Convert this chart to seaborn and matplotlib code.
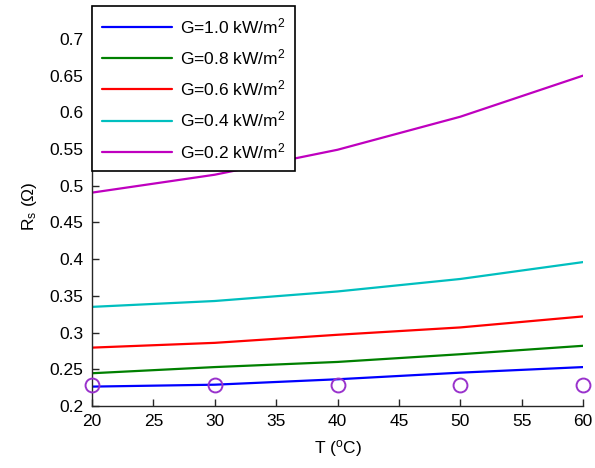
import numpy as np
import pandas as pd
import matplotlib
matplotlib.use("Agg")
import matplotlib.pyplot as plt
import seaborn as sns

# Series resistance vs. temperature for several irradiance levels
temps = [20, 30, 40, 50, 60]
rs_g10 = [0.2264, 0.229, 0.2364, 0.2454, 0.253]
rs_g08 = [0.2446, 0.253, 0.260, 0.2705, 0.282]
rs_g06 = [0.2795, 0.286, 0.297, 0.307, 0.322]
rs_g04 = [0.335, 0.343, 0.356, 0.373, 0.396]
rs_g02 = [0.4906, 0.515, 0.549, 0.594, 0.650]
# reference measurement points
ref_temps = [20, 30, 40, 50, 60]
ref_rs = [0.228, 0.228, 0.228, 0.228, 0.228]

labels = ["G=1.0 kW/m$^2$", "G=0.8 kW/m$^2$", "G=0.6 kW/m$^2$",
          "G=0.4 kW/m$^2$", "G=0.2 kW/m$^2$"]
colors = ["#0000ff", "#008000", "#ff0000", "#00bfbf", "#bf00bf"]

rows = []
for lab, vals in zip(labels, [rs_g10, rs_g08, rs_g06, rs_g04, rs_g02]):
    for t, v in zip(temps, vals):
        rows.append({"T": t, "Rs": v, "G": lab})
df = pd.DataFrame(rows)

sns.set_style("white")
plt.rcParams["font.family"] = ["Liberation Sans", "DejaVu Sans"]
plt.rcParams["mathtext.fontset"] = "custom"
plt.rcParams["mathtext.rm"] = "Liberation Sans"
plt.rcParams["mathtext.it"] = "Liberation Sans"
plt.rcParams["mathtext.default"] = "regular"
plt.rcParams["text.color"] = "black"
plt.rcParams["axes.labelcolor"] = "black"
plt.rcParams["xtick.color"] = "black"
plt.rcParams["ytick.color"] = "black"

fig = plt.figure(figsize=(5.95, 4.68), dpi=100)
ax = fig.add_axes([0.1546, 0.1325, 0.8254, 0.855])

sns.lineplot(data=df, x="T", y="Rs", hue="G", palette=colors,
             hue_order=labels, linewidth=1.6, ax=ax, legend=True)
ax.plot(ref_temps, ref_rs, linestyle="none", marker="o", markersize=10,
        markerfacecolor="none", markeredgecolor="#9932cc",
        markeredgewidth=1.4, clip_on=False, zorder=5)

ax.set_xlim(20, 60)
ax.set_ylim(0.2, 0.745)
ax.set_xticks(np.arange(20, 61, 5))
ax.set_yticks(np.arange(0.2, 0.701, 0.05))
ax.set_yticklabels(["%g" % round(v, 2) for v in np.arange(0.2, 0.701, 0.05)])

for side in ["top", "right"]:
    ax.spines[side].set_visible(False)
for side in ["left", "bottom"]:
    ax.spines[side].set_color("#262626")
    ax.spines[side].set_linewidth(1.0)

ax.tick_params(direction="in", length=5, width=1.0, color="#262626",
               labelcolor="black", labelsize=12.5, pad=6, left=True,
               bottom=True)

ax.set_xlabel("T ($^{o}$C)", fontsize=12.5, labelpad=6)
ax.set_ylabel("R$_{s}$ ($\\Omega$)", fontsize=12.5, labelpad=8)

handles, labs = ax.get_legend_handles_labels()
leg = ax.legend(handles[:5], labs[:5], loc="upper left",
                bbox_to_anchor=(0.0, 1.0), borderaxespad=0.0,
                fontsize=12.5, handlelength=4.0, handletextpad=0.45,
                labelspacing=0.65, borderpad=0.6, fancybox=False,
                framealpha=1.0, edgecolor="black")
leg.get_frame().set_linewidth(1.2)
for ln in leg.get_lines():
    ln.set_linewidth(1.6)

fig.savefig("out.png", dpi=100)
